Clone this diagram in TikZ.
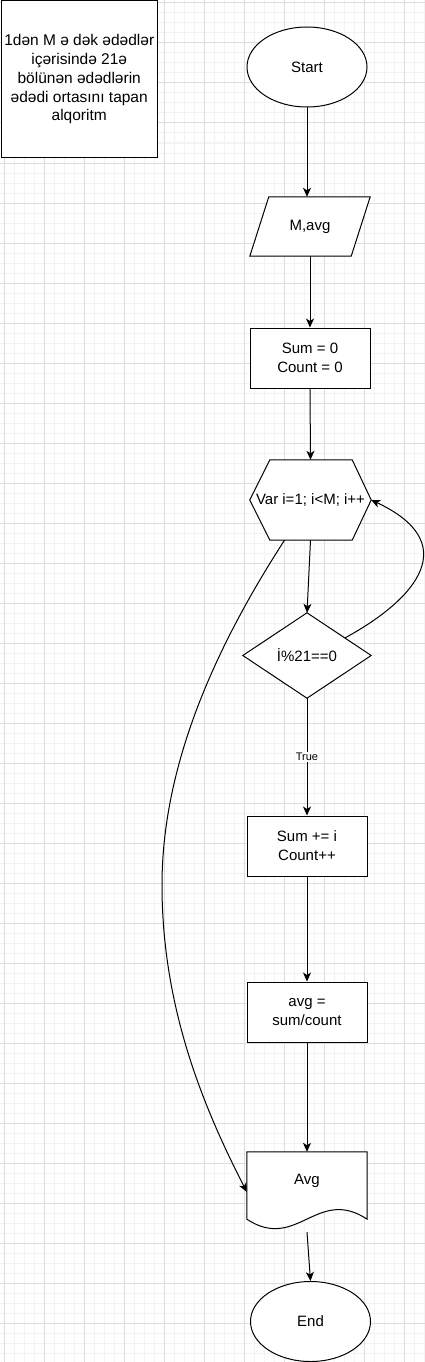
\documentclass[tikz,border=0pt]{standalone}
\usepackage{fontspec}
\setmainfont{Liberation Sans}
\usetikzlibrary{arrows.meta,calc,shapes.geometric}
\definecolor{gridmajor}{HTML}{DDDDDD}
\definecolor{gridminor}{HTML}{F3F3F3}
\begin{document}
\begin{tikzpicture}[x=1pt,y=-1pt,
  every node/.style={font=\fontsize{15}{19}\selectfont, inner sep=0pt, align=center},
  outline/.style={draw=black, line width=1pt, line join=miter},
  box/.style={draw, line width=1pt, minimum width=120pt, minimum height=60pt},
  term/.style={draw, ellipse, line width=1pt, minimum width=120pt, minimum height=80pt},
  conn/.style={line width=1pt, -{Stealth[length=9pt,width=8pt,inset=2.5pt]}},
  truelabel/.style={fill=white, font=\fontsize{11}{13}\selectfont, inner sep=1pt}
]
\useasboundingbox (0,0) rectangle (425,1362);
\fill[white] (0,0) rectangle (425,1362);
% grid
\foreach \x in {4,14,...,424} \draw[gridminor, line width=1pt] (\x,0) -- (\x,1362);
\foreach \y in {3,13,...,1353} \draw[gridminor, line width=1pt] (0,\y) -- (425,\y);
\foreach \x in {4,44,...,404} \draw[gridmajor, line width=1pt] (\x,0) -- (\x,1362);
\foreach \y in {3,43,...,1323} \draw[gridmajor, line width=1pt] (0,\y) -- (425,\y);

% title box
\node[draw, fill=white, line width=1pt, minimum width=156.5pt, minimum height=156.5pt, anchor=north west,
      font=\fontsize{15.5}{18.8}\selectfont] (title) at (0.5,0.5)
  {1dən M ə dək ədədlər\\içərisində 21ə\\bölünən ədədlərin\\ədədi ortasını tapan\\alqoritm};

% start
\node[term, fill=white] (start) at (307,67) {Start};

% input parallelogram
\node[minimum width=120pt, minimum height=59pt] (io) at (310,226.5) {};
\draw[outline, fill=white] ([xshift=19]io.north west) -- (io.north east) -- ([xshift=-19]io.south east) -- (io.south west) -- cycle;
\node at (io.center) (iotext) {M,avg};

% init
\node[box, fill=white] (init) at (310,358) {Sum = 0\\Count = 0};

% hexagon
\node[minimum width=121pt, minimum height=80pt] (hex) at (310.5,500) {};
\draw[outline, fill=white] (hex.west) -- ([xshift=20]hex.north west) -- ([xshift=-19]hex.north east) -- (hex.east)
  -- ([xshift=-19]hex.south east) -- ([xshift=20]hex.south west) -- cycle;
\node at (hex.center) (hextext) {Var i=1; i<M; i++};

% diamond
\node[minimum width=128pt, minimum height=85pt] (dia) at (307,655.5) {};
\draw[outline, fill=white] (dia.north) -- (dia.east) -- (dia.south) -- (dia.west) -- cycle;
\node at (dia.center) (diatext) {İ\%21==0};

% process boxes
\node[box, fill=white] (sum) at (307,846) {Sum += i\\Count++};
\node[box, fill=white] (calc) at (307,1012) {avg =\\sum/count};

% document
\node[minimum width=120pt, minimum height=80pt] (doc) at (307,1192) {};
\draw[outline, fill=white] (doc.north west) -- (doc.north east) -- ([yshift=13]doc.south east)
  .. controls (317,1186) and (297,1252) .. ([yshift=13]doc.south west) -- cycle;
\node (doctext) at (307,1181) {Avg};

% end
\node[term, fill=white] (end) at (310.5,1321.5) {End};

% connectors
\draw[conn] (start.south) -- (start.south |- io.north);
\draw[conn] (io.south) -- (init.north);
\draw[conn] (init.south) -- (hex.north);
\draw[conn] (hex.south) -- (dia.north);
\draw[conn] (dia.south) -- node[truelabel] (truelbl) {True} (sum.north);
\draw[conn] (sum.south) -- (calc.north);
\draw[conn] (calc.south) -- (doc.north);
\draw[conn] (doc.south) -- (end.north);
\draw[conn] ($(dia.north)!0.59!(dia.east)$) .. controls +(75,-41) and +(90,42) .. (hex.east);
\coordinate (bend) at (162,885);
\draw[conn] ([xshift=-26]hex.south) .. controls (220,640) and (162,760) .. (bend)
  .. controls (162,1010) and (205,1110) .. (doc.west);
\end{tikzpicture}
\end{document}
